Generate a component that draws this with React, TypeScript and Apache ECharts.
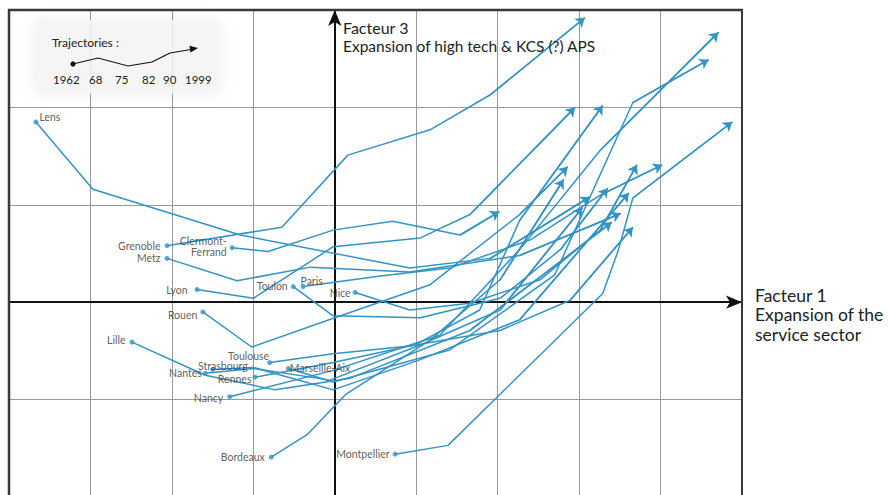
import React, { useEffect, useRef } from "react";
import * as echarts from "echarts";

// Trajectory points: 1962, 1968, 1975, 1982, 1990, 1999 (Facteur 1, Facteur 3)
const cityNames = [
  "Lens", "Grenoble", "Clermont-Ferrand", "Metz", "Lyon", "Toulon", "Paris", "Nice", "Rouen",
  "Lille", "Strasbourg", "Toulouse", "Nantes", "Rennes", "Marseille-Aix", "Nancy", "Bordeaux", "Montpellier",
];

const lens = [[-3.67, 1.85], [-2.97, 1.16], [-1.16, 0.69], [0.92, 0.35], [1.91, 0.45], [3.13, 1.08]];
const grenoble = [[-2.06, 0.58], [-0.65, 0.77], [0.16, 1.51], [1.17, 1.77], [1.91, 2.13], [3.07, 2.92]];
const clermont = [[-1.26, 0.56], [-0.82, 0.52], [-0.02, 0.74], [0.71, 0.83], [1.54, 0.69], [2.02, 0.93]];
const metz = [[-2.06, 0.45], [-1.2, 0.22], [-0.3, 0.36], [0.92, 0.31], [2.27, 0.48], [3.51, 0.91]];
const lyon = [[-1.69, 0.13], [-1.0, 0.04], [-0.02, 0.57], [1.05, 0.66], [1.66, 0.9], [2.95, 2.0]];
const toulon = [[-0.51, 0.16], [-0.02, -0.14], [1.05, -0.16], [2.03, 0.04], [2.77, 0.54], [3.35, 1.17]];
const paris = [[-0.39, 0.16], [0.56, 0.27], [1.41, 0.35], [2.4, 0.64], [3.26, 1.1], [4.02, 1.41]];
const nice = [[0.25, 0.1], [0.92, -0.08], [1.66, -0.01], [2.52, 0.23], [3.26, 0.74], [3.71, 1.41]];
const rouen = [[-1.62, -0.1], [-1.02, -0.46], [0.0, -0.16], [1.17, 0.18], [2.27, 0.9], [2.86, 1.39]];
const lille = [[-2.49, -0.41], [-1.59, -0.75], [-0.73, -0.9], [0.19, -0.78], [1.66, -0.29], [3.4, 0.82]];
const strasbourg = [[-1.5, -0.69], [-1.0, -0.67], [-0.02, -0.9], [1.05, -0.59], [2.27, -0.18], [3.61, 1.12]];
const toulouse = [[-0.8, -0.62], [-0.02, -0.53], [0.92, -0.45], [2.03, -0.29], [2.89, 0.02], [3.66, 0.77]];
const nantes = [[-1.59, -0.73], [-1.0, -0.68], [-0.06, -0.8], [1.05, -0.44], [2.03, -0.08], [3.04, 0.97]];
const rennes = [[-0.98, -0.77], [-0.02, -0.62], [0.98, -0.44], [1.78, -0.08], [2.27, 0.84], [3.29, 2.02]];
const marseille = [[-0.57, -0.68], [-0.02, -0.82], [1.41, -0.49], [2.7, 0.28], [3.66, 2.05], [4.59, 2.49]];
const nancy = [[-1.29, -0.97], [-0.02, -0.7], [1.29, -0.34], [2.27, 0.54], [3.26, 1.56], [4.71, 2.77]];
const bordeaux = [[-0.78, -1.59], [-0.34, -1.36], [0.13, -0.95], [1.17, -0.39], [2.03, 0.23], [2.81, 1.26]];
const montpellier = [[0.74, -1.56], [1.39, -1.47], [3.29, 0.09], [3.48, 0.53], [3.66, 1.07], [4.88, 1.85]];

const trajectories = [
  lens, grenoble, clermont, metz, lyon, toulon, paris, nice, rouen,
  lille, strasbourg, toulouse, nantes, rennes, marseille, nancy, bordeaux, montpellier,
];

const legendYears = ["1962", "68", "75", "82", "90", "1999"];

const LINE = "#3194c4";
const FONT = "Lato, 'Open Sans', sans-serif";

const labelStyles: Record<string, any> = {
  Lens: { position: "right", offset: [-3, -5] },
  Grenoble: { position: "left" },
  "Clermont-Ferrand": { position: "left", formatter: "Clermont-\nFerrand", lineHeight: 11, offset: [1, -1] },
  Metz: { position: "left" },
  Lyon: { position: "left", distance: 7 },
  Toulon: { position: "left", offset: [1, -1] },
  Paris: { position: "right", offset: [-9, -6] },
  Nice: { position: "left", offset: [2, 1] },
  Rouen: { position: "left", offset: [1, 3] },
  Lille: { position: "left", offset: [0, -2] },
  Strasbourg: { position: "right", offset: [-21, -3] },
  Toulouse: { position: "left", offset: [6, -7] },
  Nantes: { position: "left", offset: [3, 0] },
  Rennes: { position: "left", offset: [3, 2] },
  "Marseille-Aix": { position: "right", offset: [-5, 0] },
  Nancy: { position: "left", offset: [0, 1] },
  Bordeaux: { position: "left" },
  Montpellier: { position: "left", offset: [1, 0] },
};

export default function App() {
  const ref = useRef<HTMLDivElement>(null);

  useEffect(() => {
    if (!ref.current) return;
    const chart = echarts.init(ref.current, null, { renderer: "svg" });

    const lineSeries = trajectories.map((path, i) => ({
      type: "line",
      name: cityNames[i],
      data: path,
      symbol: "none",
      silent: true,
      z: 3,
      lineStyle: { color: LINE, width: 1.5 },
    }));

    const frame = (x1: number, y1: number, x2: number, y2: number, w: number) => ({
      type: "line",
      shape: { x1, y1, x2, y2 },
      style: { stroke: "#3a3a3a", lineWidth: w },
      z: 2,
    });

    const option: any = {
      animation: false,
      grid: {
        left: 9,
        top: 10,
        width: 733,
        height: 487,
        show: false,
      },
      xAxis: {
        type: "value",
        min: -4,
        max: 5,
        interval: 1,
        axisLine: {
          show: true,
          onZero: true,
          symbol: ["none", "arrow"],
          symbolSize: [10, 16],
          lineStyle: { color: "#111", width: 2 },
        },
        axisTick: { show: false },
        axisLabel: { show: false },
        splitLine: { show: true, lineStyle: { color: "#9a9a9a", width: 1 } },
      },
      yAxis: {
        type: "value",
        min: -2,
        max: 3,
        interval: 1,
        axisLine: {
          show: true,
          onZero: true,
          symbol: ["none", "arrow"],
          symbolSize: [10, 16],
          lineStyle: { color: "#111", width: 2 },
        },
        axisTick: { show: false },
        axisLabel: { show: false },
        splitLine: { show: true, lineStyle: { color: "#9a9a9a", width: 1 } },
      },
      graphic: [
        frame(9, 9, 9, 505, 2.5),
        frame(8, 10, 743, 10, 2.5),
        frame(742, 9, 742, 505, 2),
        {
          type: "rect",
          shape: { x: 34, y: 20, width: 186, height: 74, r: 8 },
          style: { fill: "rgba(245,245,245,0.85)", shadowBlur: 16, shadowColor: "rgba(0,0,0,0.08)" },
          z: 1,
        },
        {
          type: "text",
          style: { text: "Trajectories :", x: 52, y: 42, fill: "#222", font: `12px ${FONT}`, textVerticalAlign: "middle" },
          z: 2,
        },
        {
          type: "polyline",
          shape: { points: [[73, 64], [98, 58], [128, 66], [152, 62], [170, 53], [191, 49.5]] },
          style: { stroke: "#111", lineWidth: 1.2, fill: "none" },
          z: 2,
        },
        {
          type: "polygon",
          shape: { points: [[198, 48], [190.6, 52.6], [189.4, 45.8]] },
          style: { fill: "#111" },
          z: 2,
        },
        { type: "circle", shape: { cx: 73, cy: 64, r: 2.6 }, style: { fill: "#111" }, z: 2 },
        ...legendYears.map((t, i) => ({
          type: "text",
          style: {
            text: t,
            x: [53, 89, 115, 142, 163, 185][i],
            y: 79,
            fill: "#222",
            font: `11.5px ${FONT}`,
            textVerticalAlign: "middle",
          },
          z: 2,
        })),
        {
          type: "text",
          style: { text: "Facteur 3", x: 343, y: 27, fill: "#222", font: `16px ${FONT}`, textVerticalAlign: "middle" },
          z: 5,
        },
        {
          type: "text",
          style: {
            text: "Expansion of high tech & KCS (?) APS",
            x: 343,
            y: 46,
            fill: "#222",
            font: `15.5px ${FONT}`,
            textVerticalAlign: "middle",
          },
          z: 5,
        },
        {
          type: "text",
          style: { text: "Facteur 1", x: 755, y: 295, fill: "#222", font: `17.5px ${FONT}`, textVerticalAlign: "middle" },
          z: 5,
        },
        {
          type: "text",
          style: { text: "Expansion of the", x: 755, y: 314, fill: "#222", font: `17.5px ${FONT}`, textVerticalAlign: "middle" },
          z: 5,
        },
        {
          type: "text",
          style: { text: "service sector", x: 755, y: 334, fill: "#222", font: `17.5px ${FONT}`, textVerticalAlign: "middle" },
          z: 5,
        },
      ],
      series: [
        ...lineSeries,
        {
          type: "lines",
          coordinateSystem: "cartesian2d",
          silent: true,
          z: 4,
          symbol: ["none", "arrow"],
          symbolSize: [0, 9],
          lineStyle: { color: LINE, width: 1.5, opacity: 1, curveness: 0 },
          data: trajectories.map((p) => ({ coords: [p[4], p[5]] })),
        },
        {
          type: "scatter",
          z: 6,
          symbolSize: 5,
          itemStyle: { color: LINE },
          label: {
            show: true,
            formatter: "{b}",
            fontSize: 10.5,
            color: "#333",
            fontFamily: FONT,
            distance: 4,
          },
          data: cityNames.map((n, i) => ({
            name: n,
            value: trajectories[i][0],
            label: labelStyles[n],
          })),
        },
      ],
    };

    chart.setOption(option);
    return () => chart.dispose();
  }, []);

  return (
    <div style={{ position: "absolute", left: 0, top: 0, width: 888, height: 495, overflow: "hidden" }}>
      <div ref={ref} style={{ width: 888, height: 505, background: "#fff" }} />
    </div>
  );
}
